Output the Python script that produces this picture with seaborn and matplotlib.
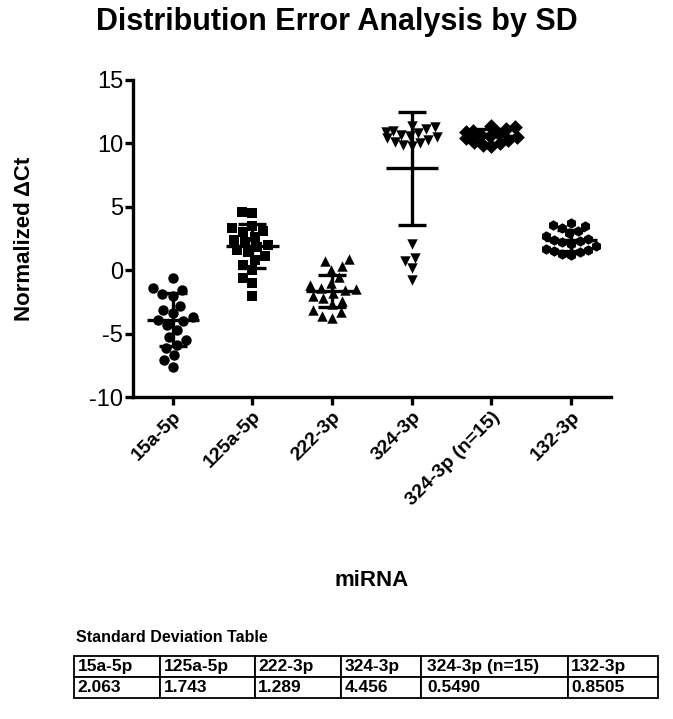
import numpy as np
import pandas as pd
import matplotlib
matplotlib.use('Agg')
import matplotlib.pyplot as plt
from matplotlib.collections import PathCollection
import seaborn as sns

# groups on the x axis and the marker GraphPad used for each
categories = ['15a-5p', '125a-5p', '222-3p', '324-3p', '324-3p (n=15)', '132-3p']
markers = ['o', 's', '^', 'v', 'D', 'h']

# normalized dCt values
vals_15a = [-0.6, -1.6, -1.9, -2.0, -1.4, -2.8, -3.1, -3.4, -3.7, -3.9,
            -4.0, -4.3, -4.7, -5.3, -5.5, -5.9, -6.1, -6.7, -7.1, -7.6]
vals_125a = [4.6, 4.5, 3.5, 3.3, 3.1, 3.0, 2.6, 2.4, 2.2, 2.0,
             1.8, 1.6, 1.4, 1.1, 0.8, 0.4, 0.0, -0.6, -1.0, -2.0]
vals_222 = [0.9, 0.7, 0.3, 0.0, -0.5, -1.0, -1.2, -1.4, -1.5, -1.6,
            -1.8, -2.0, -2.2, -2.4, -2.7, -3.1, -3.3, -3.6, -3.8]
vals_324_high = [11.4, 11.3, 11.1, 11.0, 10.9, 10.8, 10.7, 10.6, 10.5, 10.4,
                 10.3, 10.1, 10.0, 9.9, 9.8]
vals_324_low = [2.1, 0.95, 0.7, 0.2, -0.8]
vals_132 = [3.7, 3.6, 3.5, 3.3, 3.1, 2.9, 2.7, 2.5, 2.4, 2.3,
            2.2, 2.1, 1.9, 1.7, 1.6, 1.5, 1.4, 1.3, 1.2]

groups = [vals_15a, vals_125a, vals_222, vals_324_high + vals_324_low,
          vals_324_high, vals_132]

# mean line, SD from the table under it
means = [-3.9, 1.9, -1.65, 8.05, 10.6, 2.35]
sd_labels = ['2.063', '1.743', '1.289', '4.456', '0.5490', '0.8505']
sd_values = [float(s) for s in sd_labels]

sns.set_style('ticks')
plt.rcParams['font.family'] = ['Liberation Sans', 'DejaVu Sans']
plt.rcParams['axes.unicode_minus'] = False
for key in ['text.color', 'axes.labelcolor', 'xtick.color', 'ytick.color',
            'axes.edgecolor']:
    plt.rcParams[key] = 'black'

fig = plt.figure(figsize=(6.73, 7.19), dpi=100)
ax = fig.add_axes([133 / 673, 1 - 397 / 719, 478 / 673, 317 / 719])

for name, vals, m in zip(categories, groups, markers):
    df = pd.DataFrame({'miRNA': [name] * len(vals), 'dct': vals})
    sns.swarmplot(data=df, x='miRNA', y='dct', order=categories, marker=m,
                  color='black', size=7.5, linewidth=0, ax=ax, warn_thresh=1)

ax.set_xlim(-0.5, len(categories) - 0.5)
ax.set_ylim(-10, 15)

# GraphPad lets points overlap, so squeeze the wide swarms a bit
fig.canvas.draw()
half_width = 0.32
for coll in ax.collections:
    if isinstance(coll, PathCollection) and 'draw' in coll.__dict__:
        off = coll.get_offsets().copy()
        center = np.round(off[:, 0])
        dx = off[:, 0] - center
        widest = np.abs(dx).max()
        if widest > half_width:
            off[:, 0] = center + dx * half_width / widest
        del coll.draw
        coll.set_offsets(off)

xpos = np.arange(len(categories))
ax.hlines(means, xpos - 0.33, xpos + 0.33, color='black', lw=2.4, zorder=5)
ax.errorbar(xpos, means, yerr=sd_values, fmt='none', ecolor='black',
            elinewidth=2.4, capsize=10, capthick=2.4, zorder=5)

ax.set_yticks([-10, -5, 0, 5, 10, 15])
sns.despine(ax=ax)
for side in ['left', 'bottom']:
    ax.spines[side].set_linewidth(2.4)
ax.tick_params(axis='both', width=2.4, length=6, color='black')
ax.tick_params(axis='y', labelsize=17, pad=1)
ax.tick_params(axis='x', pad=2)
for lab in ax.get_xticklabels():
    lab.set_rotation(45)
    lab.set_ha('right')
    lab.set_rotation_mode('anchor')
    lab.set_fontweight('bold')
    lab.set_fontsize(14)

ax.set_xlabel('miRNA', fontsize=16, fontweight='bold')
ax.xaxis.set_label_coords(0.5, -0.545)
ax.set_ylabel('Normalized \u0394Ct', fontsize=16, fontweight='bold')
ax.yaxis.set_label_coords(-0.205, 0.5)

fig.suptitle('Distribution Error Analysis by SD', fontsize=22,
             fontweight='bold', y=1 - 22 / 719, va='center')

# standard deviation table under the chart
fig.text(76 / 673, 1 - 638 / 719, 'Standard Deviation Table', fontsize=11.5,
         fontweight='bold', va='center')
tax = fig.add_axes([74 / 673, 1 - 698 / 719, 584 / 673, 42 / 719])
tax.axis('off')
col_w = [0.148, 0.162, 0.148, 0.137, 0.251, 0.155]
tbl = tax.table(cellText=[categories, sd_labels], colWidths=col_w,
                cellLoc='left', bbox=[0, 0, 1, 1])
tbl.auto_set_font_size(False)
tbl.set_fontsize(12.5)
for cell in tbl.get_celld().values():
    cell.set_linewidth(1.3)
    cell.set_edgecolor('black')
    cell.PAD = 0.04
    cell.get_text().set_fontweight('bold')

fig.savefig('out.png', dpi=100)
